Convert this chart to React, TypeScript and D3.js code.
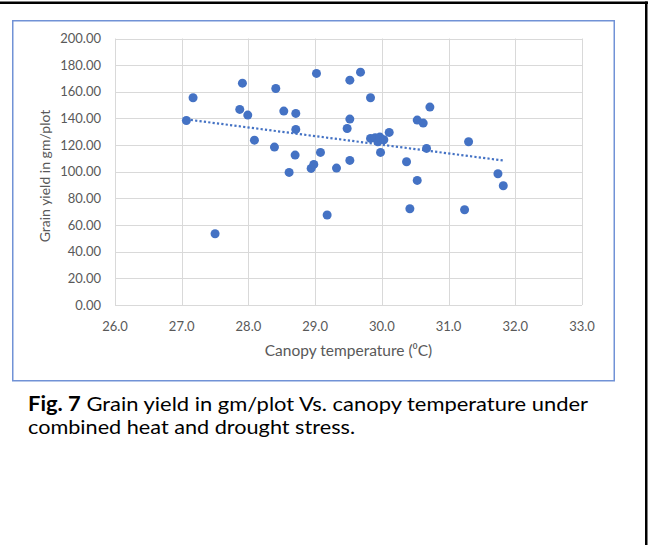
import React from "react";
import * as d3 from "d3";

const temps = [27.07, 27.17, 27.5, 27.87, 27.91, 27.99, 28.09, 28.39, 28.41, 28.53, 28.61, 28.7, 28.71, 28.71, 28.94, 28.98, 29.02, 29.08, 29.18, 29.32, 29.48, 29.52, 29.52, 29.52, 29.68, 29.83, 29.83, 29.9, 29.94, 29.97, 30.03, 29.98, 30.11, 30.37, 30.42, 30.53, 30.53, 30.62, 30.67, 30.72, 31.24, 31.3, 31.74, 31.82];
const yields = [138.5, 155.5, 53.5, 146.8, 166.5, 142.5, 123.7, 118.5, 162.5, 145.5, 99.5, 112.5, 143.8, 131.8, 102.5, 105.5, 173.8, 114.5, 67.5, 102.75, 132.5, 139.5, 168.75, 108.5, 174.75, 155.5, 125, 125.5, 122.5, 126, 124, 114.5, 129.5, 107.5, 72.25, 138.75, 93.5, 136.5, 117.5, 148.5, 71.5, 122.5, 98.5, 89.5];
const xTicks = [26, 27, 28, 29, 30, 31, 32, 33];
const yTicks = [0, 20, 40, 60, 80, 100, 120, 140, 160, 180, 200];

const W = 649, H = 545;
const font = "Lato, 'Open Sans', sans-serif";

export default function App() {
  const x = d3.scaleLinear().domain([26, 33]).range([115, 582]);
  const y = d3.scaleLinear().domain([0, 200]).range([305, 38.5]);

  // linear regression for trendline
  const n = temps.length;
  const mx = d3.mean(temps) as number;
  const my = d3.mean(yields) as number;
  let sxy = 0, sxx = 0;
  for (let i = 0; i < n; i++) {
    sxy += (temps[i] - mx) * (yields[i] - my);
    sxx += (temps[i] - mx) * (temps[i] - mx);
  }
  const slope = sxy / sxx;
  const intercept = my - slope * mx;
  const x0 = d3.min(temps) as number;
  const x1 = d3.max(temps) as number;
  const line = d3.line<number>().x((d) => x(d)).y((d) => y(intercept + slope * d));

  return (
    <svg width={W} height={H} style={{ position: "absolute", left: 0, top: 0, background: "#fff" }}>
      <rect x={0} y={0} width={W} height={H} fill="#fff" />
      {/* page borders */}
      <rect x={0} y={1.5} width={648} height={2.5} fill="#000" />
      <rect x={645} y={1.5} width={2.5} height={H} fill="#000" />
      {/* chart frame */}
      <rect x={12.75} y={20.75} width={601.5} height={360} fill="none" stroke="#7192d6" strokeWidth={1.5} />
      {/* gridlines */}
      {yTicks.map((t) => (
        <line key={"gy" + t} x1={x(26)} x2={x(33)} y1={Math.round(y(t)) + 0.5} y2={Math.round(y(t)) + 0.5} stroke="#d9d9d9" strokeWidth={1} />
      ))}
      {xTicks.map((t) => (
        <line key={"gx" + t} y1={y(0)} y2={y(200)} x1={Math.round(x(t)) + 0.5} x2={Math.round(x(t)) + 0.5} stroke="#d9d9d9" strokeWidth={1} />
      ))}
      {/* y tick labels */}
      {yTicks.map((t) => (
        <text key={"ty" + t} x={101} y={y(t)} dy="0.35em" textAnchor="end" fontFamily={font} fontSize={13} fill="#595959">
          {t.toFixed(2)}
        </text>
      ))}
      {xTicks.map((t) => (
        <text key={"tx" + t} x={x(t)} y={326} dy="0.35em" textAnchor="middle" fontFamily={font} fontSize={13} fill="#595959">
          {t.toFixed(1)}
        </text>
      ))}
      <text x={348.5} y={351} dy="0.35em" textAnchor="middle" fontFamily={font} fontSize={15.5} fill="#595959">
        Canopy temperature (⁰C)
      </text>
      <text transform={`translate(45,176) rotate(-90)`} dy="0.35em" textAnchor="middle" fontFamily={font} fontSize={14} fill="#595959">
        Grain yield in gm/plot
      </text>
      {/* trendline */}
      <path d={line([x0, x1]) || ""} fill="none" stroke="#4472c4" strokeWidth={2.2} strokeDasharray="2.2,2.2" />
      {/* points */}
      {temps.map((t, i) => (
        <circle key={i} cx={x(t)} cy={y(yields[i])} r={4.5} fill="#4472c4" />
      ))}
      {/* caption */}
      <text x={28} y={411} fontFamily={font} fontSize={20} fill="#000" textLength={560} lengthAdjust="spacingAndGlyphs">
        <tspan fontWeight="bold">Fig. 7</tspan> Grain yield in gm/plot Vs. canopy temperature under
      </text>
      <text x={28} y={434} fontFamily={font} fontSize={20} fill="#000" textLength={327} lengthAdjust="spacingAndGlyphs">
        combined heat and drought stress.
      </text>
    </svg>
  );
}
